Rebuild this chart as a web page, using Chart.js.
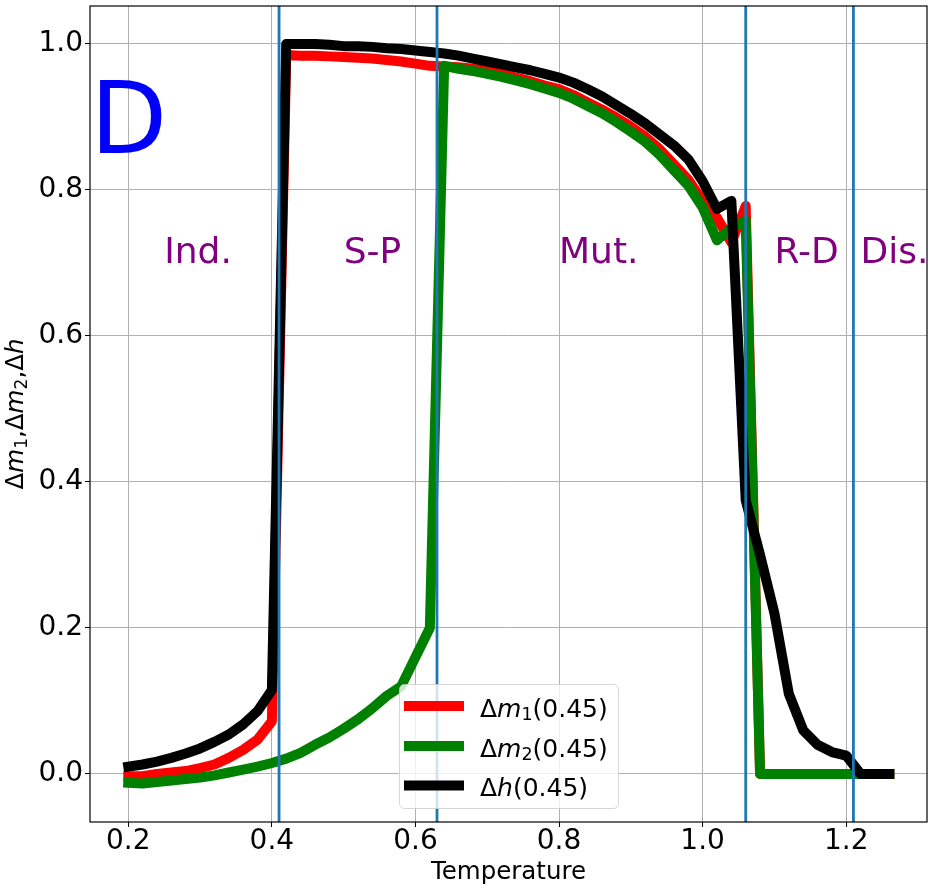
<!DOCTYPE html>
<html>
<head>
<meta charset="utf-8">
<script src="https://cdn.jsdelivr.net/npm/chart.js@4.4.1/dist/chart.umd.min.js"></script>
<style>
  html, body { margin: 0; padding: 0; background: #fff; }
  canvas { display: block; }
</style>
</head>
<body>
<canvas id="chart" width="934" height="892"></canvas>
<script>
// temperatures
const temps = [0.20, 0.22, 0.24, 0.26, 0.28, 0.30, 0.32, 0.34, 0.36, 0.38,
  0.40, 0.42, 0.44, 0.46, 0.48, 0.50, 0.52, 0.54, 0.56, 0.58,
  0.60, 0.62, 0.64, 0.66, 0.68, 0.70, 0.72, 0.74, 0.76, 0.78,
  0.80, 0.82, 0.84, 0.86, 0.88, 0.90, 0.92, 0.94, 0.96, 0.98,
  1.00, 1.02, 1.04, 1.06, 1.08, 1.10, 1.12, 1.14, 1.16, 1.18,
  1.20, 1.22, 1.24, 1.26];

// delta m1 (0.45)
const dm1 = [-0.003, -0.003, 0.000, 0.002, 0.004, 0.008, 0.013, 0.022, 0.033, 0.047,
  0.072, 0.985, 0.984, 0.984, 0.983, 0.982, 0.981, 0.980, 0.978, 0.976,
  0.973, 0.970, 0.969, 0.968, 0.966, 0.963, 0.959, 0.954, 0.949, 0.943,
  0.938, 0.930, 0.920, 0.910, 0.899, 0.887, 0.873, 0.856, 0.835, 0.814,
  0.785, 0.762, 0.728, 0.778, 0.000, 0.000, 0.000, 0.000, 0.000, 0.000,
  0.000, 0.000, 0.000, 0.000];

// delta m2 (0.45)
const dm2 = [-0.012, -0.013, -0.011, -0.009, -0.007, -0.005, -0.002, 0.002, 0.006, 0.010,
  0.015, 0.021, 0.029, 0.040, 0.050, 0.062, 0.075, 0.090, 0.107, 0.120,
  0.160, 0.200, 0.970, 0.966, 0.963, 0.959, 0.955, 0.950, 0.945, 0.939,
  0.933, 0.925, 0.915, 0.905, 0.893, 0.880, 0.866, 0.848, 0.827, 0.806,
  0.776, 0.731, 0.748, 0.758, 0.000, 0.000, 0.000, 0.000, 0.000, 0.000,
  0.000, 0.000, 0.000, 0.000];

// delta h (0.45)
const dh = [0.010, 0.013, 0.017, 0.022, 0.028, 0.035, 0.044, 0.054, 0.068, 0.086,
  0.115, 1.000, 1.000, 1.000, 0.999, 0.997, 0.997, 0.996, 0.994, 0.993,
  0.991, 0.989, 0.987, 0.984, 0.980, 0.976, 0.972, 0.968, 0.964, 0.959,
  0.954, 0.947, 0.938, 0.928, 0.916, 0.904, 0.891, 0.876, 0.861, 0.842,
  0.812, 0.774, 0.785, 0.375, 0.300, 0.220, 0.110, 0.060, 0.040, 0.030,
  0.025, 0.000, 0.000, 0.000];

// phase boundaries and region names
const transitions = [0.41, 0.63, 1.06, 1.21];
const regionNames = ['Ind.', 'S-P', 'Mut.', 'R-D', 'Dis.'];
const regionX = [0.25, 0.5, 0.8, 1.1, 1.22];
const regionY = 0.7;

const xTicks = [0.2, 0.4, 0.6, 0.8, 1.0, 1.2];
const yTicks = [0.0, 0.2, 0.4, 0.6, 0.8, 1.0];

// mathtext-ish pieces: n = normal, i = italic, s = subscript
const seriesLabels = [
  [['Δ', 'n'], ['m', 'i'], ['1', 's'], ['(0.45)', 'n']],
  [['Δ', 'n'], ['m', 'i'], ['2', 's'], ['(0.45)', 'n']],
  [['Δ', 'n'], ['h', 'i'], ['(0.45)', 'n']]
];
const yTitle = [['Δ', 'n'], ['m', 'i'], ['1', 's'], [',', 'n'], ['Δ', 'n'], ['m', 'i'], ['2', 's'], [',', 'n'], ['Δ', 'n'], ['h', 'i']];

const FONT = "'DejaVu Sans', sans-serif";

function toPoints(vals) {
  return temps.map((t, i) => ({ x: t, y: vals[i] }));
}

function lineSet(vals, color, order) {
  return {
    data: toPoints(vals),
    borderColor: color,
    backgroundColor: color,
    borderWidth: 10,
    pointRadius: 0,
    tension: 0,
    showLine: true,
    fill: false,
    borderCapStyle: 'square',
    borderJoinStyle: 'round',
    order: order
  };
}

function segFont(style, size) {
  if (style === 'i') return 'italic ' + size + 'px ' + FONT;
  if (style === 's') return (size * 0.7) + 'px ' + FONT;
  return size + 'px ' + FONT;
}

function mathWidth(ctx, segs, size) {
  let w = 0;
  segs.forEach(([t, st]) => { ctx.font = segFont(st, size); w += ctx.measureText(t).width; });
  return w;
}

function drawMath(ctx, segs, x, y, size, color) {
  ctx.fillStyle = color;
  ctx.textBaseline = 'alphabetic';
  ctx.textAlign = 'left';
  segs.forEach(([t, st]) => {
    ctx.font = segFont(st, size);
    const dy = st === 's' ? size * 0.15 : 0;
    ctx.fillText(t, x, y + dy);
    x += ctx.measureText(t).width;
  });
}

const extras = {
  id: 'extras',
  afterDatasetsDraw(chart) {
    const { ctx, chartArea: a, scales: { x, y } } = chart;
    ctx.save();
    // vertical lines at transitions
    ctx.strokeStyle = '#1f77b4';
    ctx.lineWidth = 2.8;
    transitions.forEach(t => {
      const px = x.getPixelForValue(t);
      ctx.beginPath();
      ctx.moveTo(px, a.top);
      ctx.lineTo(px, a.bottom);
      ctx.stroke();
    });
    // region names
    ctx.fillStyle = '#800080';
    ctx.font = '36px ' + FONT;
    ctx.textBaseline = 'alphabetic';
    ctx.textAlign = 'left';
    regionNames.forEach((name, i) => {
      ctx.fillText(name, x.getPixelForValue(regionX[i]), y.getPixelForValue(regionY));
    });
    // panel letter
    ctx.fillStyle = '#0000ff';
    ctx.font = '100px ' + FONT;
    ctx.fillText('D', x.getPixelForValue(0.147), y.getPixelForValue(0.85));
    ctx.restore();
  },
  afterDraw(chart) {
    const { ctx, chartArea: a } = chart;
    ctx.save();
    // frame
    ctx.strokeStyle = '#000';
    ctx.lineWidth = 1.2;
    ctx.strokeRect(a.left, a.top, a.right - a.left, a.bottom - a.top);

    // y title
    ctx.save();
    ctx.translate(23, (a.top + a.bottom) / 2);
    ctx.rotate(-Math.PI / 2);
    const w = mathWidth(ctx, yTitle, 24.5);
    drawMath(ctx, yTitle, -w / 2, 0, 24.5, '#000');
    ctx.restore();

    // legend
    const bx = 399.5, by = 684.5, bw = 219, bh = 124, r = 5;
    ctx.beginPath();
    ctx.roundRect(bx, by, bw, bh, r);
    ctx.fillStyle = 'rgba(255,255,255,0.8)';
    ctx.fill();
    ctx.strokeStyle = 'rgba(204,204,204,0.8)';
    ctx.lineWidth = 1;
    ctx.stroke();
    const rowY = [706, 746, 785.5];
    chart.data.datasets.forEach((ds, i) => {
      ctx.strokeStyle = ds.borderColor;
      ctx.lineWidth = 10;
      ctx.lineCap = 'butt';
      ctx.beginPath();
      ctx.moveTo(404, rowY[i]);
      ctx.lineTo(464, rowY[i]);
      ctx.stroke();
      drawMath(ctx, seriesLabels[i], 480, rowY[i] + 10.5, 25, '#000');
    });
    ctx.restore();
  }
};

const ctx = document.getElementById('chart').getContext('2d');

new Chart(ctx, {
  type: 'scatter',
  data: {
    datasets: [
      lineSet(dm1, '#ff0000', 3),
      lineSet(dm2, '#008000', 2),
      lineSet(dh, '#000000', 1)
    ]
  },
  options: {
    responsive: false,
    animation: false,
    devicePixelRatio: 1,
    layout: { padding: { top: 6, right: 7, left: 0, bottom: 0 } },
    plugins: {
      legend: { display: false },
      tooltip: { enabled: false }
    },
    scales: {
      x: {
        type: 'linear',
        min: 0.1467,
        max: 1.3125,
        afterBuildTicks: s => { s.ticks = xTicks.map(v => ({ value: v })); },
        afterFit: s => { s.height = 70; s.paddingLeft = 0; s.paddingRight = 0; },
        grid: { color: '#b0b0b0', lineWidth: 1, tickColor: '#000', tickLength: 5 },
        border: { display: false },
        ticks: {
          color: '#000',
          font: { family: FONT, size: 28, lineHeight: 1 },
          padding: 1,
          maxRotation: 0,
          callback: v => v.toFixed(1)
        },
        title: {
          display: true,
          text: 'Temperature',
          color: '#000',
          font: { family: FONT, size: 24.5 },
          padding: { top: 0, bottom: 5 }
        }
      },
      y: {
        type: 'linear',
        min: -0.0658,
        max: 1.052,
        afterBuildTicks: s => { s.ticks = yTicks.map(v => ({ value: v })); },
        afterFit: s => { s.width = 90; s.paddingTop = 0; s.paddingBottom = 0; },
        grid: { color: '#b0b0b0', lineWidth: 1, tickColor: '#000', tickLength: 5 },
        border: { display: false },
        ticks: {
          color: '#000',
          font: { family: FONT, size: 28 },
          padding: 2,
          callback: v => v.toFixed(1)
        }
      }
    }
  },
  plugins: [extras]
});
</script>
</body>
</html>
